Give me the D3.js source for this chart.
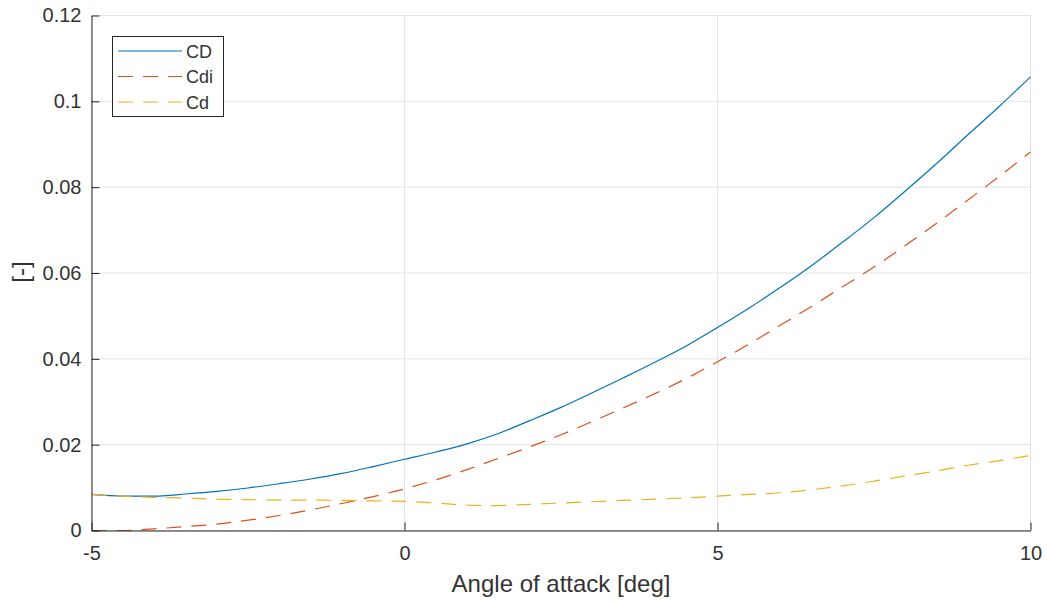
<!DOCTYPE html>
<html>
<head>
<meta charset="utf-8">
<script src="https://cdn.jsdelivr.net/npm/d3@7"></script>
<style>
  html, body { margin: 0; padding: 0; background: #fff; }
  svg { display: block; font-family: "Liberation Sans", Arial, Helvetica, sans-serif; }
</style>
</head>
<body>
<svg id="chart" width="1047" height="601"></svg>
<script>
// Angle of attack samples [deg]
const alpha = [-5, -4.5, -4, -3.5, -3, -2.5, -2, -1.5, -1, -0.5, 0, 0.5, 1, 1.5, 2, 2.5,
               3, 3.5, 4, 4.5, 5, 5.5, 6, 6.5, 7, 7.5, 8, 8.5, 9, 9.5, 10];

// Total drag coefficient
const CD = [0.0084, 0.0080, 0.0080, 0.0085, 0.0091, 0.0099, 0.0109, 0.0120, 0.0133, 0.0149,
            0.0166, 0.0183, 0.0202, 0.0226, 0.0256, 0.0287, 0.0321, 0.0356, 0.0392, 0.0430,
            0.0473, 0.0518, 0.0566, 0.0617, 0.0672, 0.0729, 0.0791, 0.0855, 0.0922, 0.0988, 0.1057];

// Induced drag coefficient
const Cdi = [0, 0, 0.0004, 0.0009, 0.0015, 0.0024, 0.0035, 0.0048, 0.0063, 0.0079,
             0.0097, 0.0118, 0.0142, 0.0168, 0.0195, 0.0223, 0.0254, 0.0286, 0.0319, 0.0354,
             0.0393, 0.0434, 0.0478, 0.0522, 0.0568, 0.0614, 0.0664, 0.0716, 0.0770, 0.0825, 0.0882];

// Profile drag coefficient
const Cd = [0.0084, 0.0080, 0.0077, 0.0076, 0.0073, 0.0072, 0.0071, 0.0071, 0.0070, 0.0069,
            0.0068, 0.0064, 0.0059, 0.0058, 0.0061, 0.0064, 0.0067, 0.0070, 0.0073, 0.0076,
            0.0080, 0.0084, 0.0088, 0.0095, 0.0104, 0.0115, 0.0127, 0.0139, 0.0152, 0.0163, 0.0175];

const xTicks = [-5, 0, 5, 10];
const yTicks = [0, 0.02, 0.04, 0.06, 0.08, 0.1, 0.12];
const seriesNames = ["CD", "Cdi", "Cd"];
const seriesColors = ["#0072BD", "#D95319", "#EDB120"];
const seriesDash = [null, "15,10", "15,10"];
const seriesData = [CD, Cdi, Cd];

const svg = d3.select("#chart");
const plotL = 91.5, plotR = 1030.5, plotT = 15.5, plotB = 530.5;

const x = d3.scaleLinear().domain([-5, 10]).range([plotL, plotR]);
const y = d3.scaleLinear().domain([0, 0.12]).range([plotB, plotT]);

const axisColor = "#262626";
const textColor = "#333333";
const gridColor = "#e3e3e3";

// grid
const grid = svg.append("g");
grid.selectAll("line.gx").data(xTicks).join("line")
  .attr("x1", d => x(d)).attr("x2", d => x(d))
  .attr("y1", plotT).attr("y2", plotB)
  .attr("stroke", gridColor).attr("stroke-width", 1);
grid.selectAll("line.gy").data(yTicks).join("line")
  .attr("y1", d => y(d)).attr("y2", d => y(d))
  .attr("x1", plotL).attr("x2", plotR)
  .attr("stroke", gridColor).attr("stroke-width", 1);

// data lines
const line = d3.line().curve(d3.curveMonotoneX);
seriesData.forEach((vals, i) => {
  svg.append("path")
    .datum(alpha.map((a, k) => [x(a), y(vals[k])]))
    .attr("d", line)
    .attr("fill", "none")
    .attr("stroke", seriesColors[i])
    .attr("stroke-width", 1.2)
    .attr("stroke-dasharray", seriesDash[i]);
});

// axes (ticks pointing inward, plain hyphen for negatives)
const xAxis = d3.axisBottom(x).tickValues(xTicks).tickSizeInner(-8).tickSizeOuter(0)
  .tickPadding(15).tickFormat(d => String(d));
const gx = svg.append("g").attr("transform", `translate(0,${plotB})`).call(xAxis);
gx.select(".domain").attr("stroke", axisColor);
gx.selectAll(".tick line").attr("stroke", axisColor);
gx.selectAll(".tick text").attr("fill", textColor).attr("font-size", 20)
  .attr("font-family", "Liberation Sans, Arial, sans-serif");

const yAxis = d3.axisLeft(y).tickValues(yTicks).tickSizeInner(-8).tickSizeOuter(0)
  .tickPadding(10).tickFormat(d => String(+d.toFixed(2)));
const gy = svg.append("g").attr("transform", `translate(${plotL},0)`).call(yAxis);
gy.select(".domain").attr("stroke", axisColor);
gy.selectAll(".tick line").attr("stroke", axisColor);
gy.selectAll(".tick text").attr("fill", textColor).attr("font-size", 20)
  .attr("font-family", "Liberation Sans, Arial, sans-serif");

// axis labels
svg.append("text")
  .attr("x", (plotL + plotR) / 2).attr("y", 592)
  .attr("text-anchor", "middle").attr("font-size", 24).attr("fill", textColor)
  .text("Angle of attack [deg]");
svg.append("text")
  .attr("transform", `translate(29,${(plotT + plotB) / 2 - 1}) rotate(-90)`)
  .attr("text-anchor", "middle").attr("font-size", 24).attr("fill", textColor)
  .text("[-]");

// legend
const lg = svg.append("g");
lg.append("rect").attr("x", 112.5).attr("y", 36.5).attr("width", 111).attr("height", 80)
  .attr("fill", "#fff").attr("stroke", axisColor).attr("stroke-width", 1);
seriesNames.forEach((name, i) => {
  const ly = 51 + i * 25.5;
  lg.append("line").attr("x1", 118).attr("x2", 182).attr("y1", ly).attr("y2", ly)
    .attr("stroke", seriesColors[i]).attr("stroke-width", 1.2)
    .attr("stroke-dasharray", seriesDash[i]);
  lg.append("text").attr("x", 186).attr("y", ly + 6.5)
    .attr("font-size", 18).attr("fill", textColor).text(name);
});
</script>
</body>
</html>
